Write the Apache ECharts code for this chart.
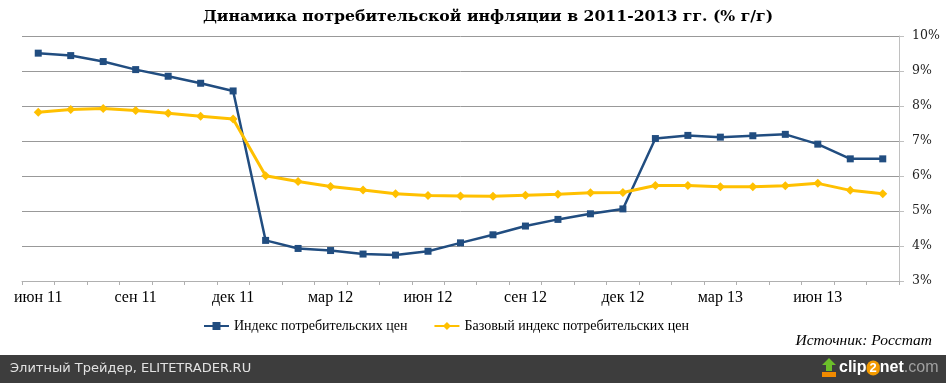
<!DOCTYPE html>
<html><head><meta charset="utf-8">
<script src="https://cdn.jsdelivr.net/npm/echarts@6/dist/echarts.min.js"></script>
<style>html,body{margin:0;padding:0;background:#fff}#c{width:946px;height:383px}</style>
</head><body><div id="c"></div>
<script>
var months = ["июн 11","июл 11","авг 11","сен 11","окт 11","ноя 11","дек 11",
  "янв 12","фев 12","мар 12","апр 12","май 12","июн 12","июл 12","авг 12","сен 12","окт 12","ноя 12","дек 12",
  "янв 13","фев 13","мар 13","апр 13","май 13","июн 13","июл 13","авг 13"];
var cpi = [9.51,9.44,9.27,9.04,8.85,8.65,8.43,
  4.16,3.93,3.87,3.77,3.74,3.85,4.09,4.32,4.57,4.76,4.92,5.06,
  7.07,7.16,7.11,7.15,7.19,6.91,6.49,6.49];
var coreCpi = [7.82,7.90,7.93,7.87,7.79,7.71,7.63,
  6.01,5.84,5.70,5.60,5.49,5.44,5.43,5.42,5.45,5.48,5.52,5.53,
  5.73,5.73,5.69,5.69,5.72,5.79,5.59,5.49];
var seriesNames = ["Индекс потребительских цен","Базовый индекс потребительских цен"];
var titleText = "Динамика потребительской инфляции в 2011-2013 гг. (% г/г)";
var sourceText = "Источник: Росстат";
var footerText = "Элитный Трейдер, ELITETRADER.RU";

var chart = echarts.init(document.getElementById('c'), null, {renderer:'canvas'});
chart.setOption({
  animation:false,
  backgroundColor:'#fff',
  title:{text:titleText,left:483,top:4,textAlign:'center',
    textStyle:{fontFamily:'DejaVu Serif',fontWeight:'bold',fontSize:15.7,color:'#000'}},
  grid:{left:22,right:47,top:36,bottom:102,containLabel:false},
  legend:{top:314,left:198,itemWidth:25,itemHeight:10,itemGap:26,
    textStyle:{fontFamily:'Liberation Serif',fontSize:14,color:'#000'},
    data:seriesNames},
  xAxis:{type:'category',data:months,boundaryGap:true,
    axisLine:{lineStyle:{color:'#b0b0b0',width:1}},
    axisTick:{show:true,interval:0,length:4,lineStyle:{color:'#b0b0b0'}},
    axisLabel:{interval:2,margin:9,fontFamily:'Liberation Serif',fontSize:16,color:'#000'},
    splitLine:{show:false}},
  yAxis:{type:'value',position:'right',min:3,max:10,interval:1,
    axisLine:{show:true,lineStyle:{color:'#c0c0c0'}},
    axisTick:{show:true,length:5,lineStyle:{color:'#c0c0c0'}},
    axisLabel:{formatter:'{value}%',margin:13,fontFamily:'DejaVu Serif',fontSize:12.5,color:'#222'},
    splitLine:{lineStyle:{color:'#999999',width:1}}},
  series:[
    {name:seriesNames[0],type:'line',data:cpi,symbol:'rect',symbolSize:7,
      lineStyle:{color:'#214d80',width:2.5},itemStyle:{color:'#214d80'}},
    {name:seriesNames[1],type:'line',data:coreCpi,symbol:'diamond',symbolSize:9,
      lineStyle:{color:'#ffc000',width:3},itemStyle:{color:'#ffc000'}}
  ],
  graphic:[
    {type:'text',right:14,top:333,style:{text:sourceText,fontFamily:'Liberation Serif',fontStyle:'italic',fontSize:15.5,fill:'#000'}},
    {type:'rect',left:0,top:355,shape:{width:946,height:28},style:{fill:'#3d3d3d'}},
    {type:'text',left:10,top:362,style:{text:footerText,fontFamily:'DejaVu Sans',fontSize:13,fill:'#e2e2e2'}},
    {type:'polygon',shape:{points:[[829,358],[822,365],[826,365],[826,371],[832,371],[832,365],[836,365]]},style:{fill:'#6cbf2a'}},
    {type:'rect',shape:{x:822,y:372,width:14,height:5},style:{fill:'#f08a00'}},
    {type:'text',left:839,top:360,style:{
      text:'{w|clip}{o|2}{w|net}{g|.com}',
      rich:{
        w:{fontFamily:'Liberation Sans',fontWeight:'bold',fontSize:16,fill:'#ffffff'},
        o:{fontFamily:'Liberation Sans',fontWeight:'bold',fontSize:13,fill:'#ffffff',backgroundColor:'#f39a00',borderRadius:8,padding:[1,3,1,3]},
        g:{fontFamily:'Liberation Sans',fontSize:16,fill:'#a0a0a0'}
      }}}
  ]
});
</script></body></html>
